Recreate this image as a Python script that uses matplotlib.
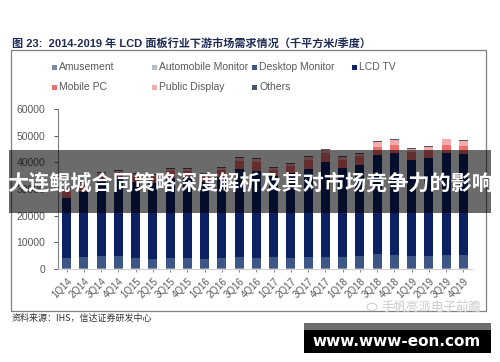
import matplotlib
matplotlib.use("Agg")
import matplotlib.pyplot as plt
from matplotlib.patches import Rectangle, Circle
import numpy as np

plt.rcParams['font.family'] = ['Liberation Sans', 'Noto Sans CJK SC', 'DejaVu Sans']

quarters = ["1Q14", "2Q14", "3Q14", "4Q14", "1Q15", "2Q15", "3Q15", "4Q15",
            "1Q16", "2Q16", "3Q16", "4Q16", "1Q17", "2Q17", "3Q17", "4Q17",
            "1Q18", "2Q18", "3Q18", "4Q18", "1Q19", "2Q19", "3Q19", "4Q19"]

amusement = [200, 200, 200, 200, 200, 200, 200, 200, 200, 200, 200, 200,
             200, 200, 200, 200, 200, 200, 200, 200, 200, 200, 200, 200]
automobile = [300, 300, 300, 300, 300, 300, 300, 300, 300, 300, 300, 300,
              300, 300, 300, 300, 300, 300, 300, 300, 300, 300, 300, 300]
desktop = [3500, 4100, 4200, 4200, 3600, 3400, 3500, 3600, 3300, 3700, 4100, 3600,
           3900, 3800, 4000, 4100, 4100, 4300, 5100, 4800, 4500, 4400, 4800, 4800]
lcd_tv = [22600, 24400, 28300, 28900, 28500, 28300, 30200, 30200, 28700, 30400, 32800, 32700,
          30600, 31700, 33100, 35400, 33200, 34200, 37200, 38300, 35900, 36600, 38300, 37700]
mobile_pc = [2800, 2500, 2400, 2500, 2400, 2400, 2700, 2600, 2500, 2700, 3200, 3400,
             2100, 2600, 3400, 3500, 3200, 3300, 2900, 2900, 3100, 3200, 3000, 3000]
public_display = [700, 700, 700, 700, 700, 700, 700, 700, 700, 700, 1000, 1000,
                  700, 700, 1100, 1100, 1100, 1000, 2000, 1900, 1100, 1100, 2000, 2100]
others = [300, 300, 300, 300, 300, 300, 300, 300, 300, 300, 300, 300,
          300, 300, 300, 300, 300, 300, 300, 300, 300, 300, 300, 300]

series = [("Amusement", amusement, "#7d8ca6"),
          ("Automobile Monitor", automobile, "#b3bdcb"),
          ("Desktop Monitor", desktop, "#3b5687"),
          ("LCD TV", lcd_tv, "#0b2162"),
          ("Mobile PC", mobile_pc, "#ef6f6f"),
          ("Public Display", public_display, "#f5abab"),
          ("Others", others, "#4b5568")]

fig = plt.figure(figsize=(5.0, 3.62), dpi=100)
W, H = 500, 362

def fx(x):
    return x / W

def fy(y):
    return 1 - y / H

# title
fig.text(fx(12), fy(43), "图 23:  2014-2019 年 LCD 面板行业下游市场需求情况（千平方米/季度）",
         fontsize=8, fontweight='bold', color="#1f2a55", va='center', ha='left',
         family=['Liberation Sans', 'Noto Sans CJK SC'])

# border box
fig.patches.append(Rectangle((fx(11), fy(311)), fx(486) - fx(11), fy(50) - fy(311),
                             transform=fig.transFigure, fill=False, edgecolor="#808080", lw=0.9))

ax = fig.add_axes([fx(58), fy(269), fx(472) - fx(58), fy(109) - fy(269)])
x = np.arange(len(quarters))
bottom = np.zeros(len(quarters))
for name, vals, col in series:
    v = np.array(vals, dtype=float)
    ax.bar(x, v, bottom=bottom, width=0.52, color=col, label=name, linewidth=0)
    bottom += v

ax.set_xlim(-0.5, len(quarters) - 0.5)
ax.set_ylim(0, 60000)
ax.set_yticks([0, 10000, 20000, 30000, 40000, 50000, 60000])
ax.set_yticklabels(["0", "10000", "20000", "30000", "40000", "50000", "60000"])
ax.set_xticks(x)
ax.set_xticklabels(quarters, rotation=45, ha='right', va='top', rotation_mode='anchor')
ax.tick_params(axis='y', labelsize=7.5, colors="#595959", length=3, width=0.7, pad=6)
ax.tick_params(axis='x', labelsize=7, colors="#595959", length=2, width=0.5, pad=3)
for s in ['top', 'right']:
    ax.spines[s].set_visible(False)
ax.spines['left'].set_color("#808080")
ax.spines['left'].set_linewidth(0.8)
ax.spines['bottom'].set_color("#d0d0d0")
ax.spines['bottom'].set_linewidth(0.8)

# legend (manual)
leg_pos = [(52, 67), (152, 67), (252, 67), (352, 67), (52, 87), (152, 87), (252, 87)]
for (name, vals, col), (lx, ly) in zip(series, leg_pos):
    fig.patches.append(Rectangle((fx(lx), fy(ly + 2.5)), fx(5), 5 / H,
                                 transform=fig.transFigure, facecolor=col, edgecolor='none'))
    fig.text(fx(lx + 7), fy(ly), name, fontsize=7.5, color="#595959", va='center', ha='left')

# source
fig.text(fx(12), fy(318), "资料来源：IHS，信达证券研发中心", fontsize=6.5, color="#333333",
         va='center', ha='left', family=['Noto Sans CJK SC', 'DejaVu Sans'])

# watermark
fig.patches.append(Circle((fx(372), fy(307)), 5 / W, transform=fig.transFigure,
                          fill=False, edgecolor="#cfcfcf", lw=0.8))
fig.text(fx(381), fy(307), "手帆亮派电子前瞻", fontsize=9, color="#cccccc",
         va='center', ha='left', family=['Noto Sans CJK SC', 'DejaVu Sans'])

# overlay band
fig.patches.append(Rectangle((fx(9), fy(213)), fx(491) - fx(9), fy(150) - fy(213),
                             transform=fig.transFigure, facecolor="black", alpha=0.58,
                             edgecolor='none', zorder=5))
fig.text(fx(250), fy(183), "大连鲲城合同策略深度解析及其对市场竞争力的影响", fontsize=15.2,
         fontweight='bold', color="white", va='center', ha='center', zorder=6,
         family=['Noto Sans CJK SC', 'DejaVu Sans'])

# black box
fig.patches.append(Rectangle((fx(304), fy(353)), fx(491) - fx(304), fy(323) - fy(353),
                             transform=fig.transFigure, facecolor="black", edgecolor='none', zorder=5))
fig.patches.append(Rectangle((fx(304), fy(330)), fx(491) - fx(304), fy(323) - fy(330),
                             transform=fig.transFigure, facecolor="#6e6e6e", edgecolor='none', zorder=5))
fig.text(fx(397), fy(341), "www.www-eon.com", fontsize=11, fontweight='bold', color="white",
         va='center', ha='center', zorder=6, family=['DejaVu Sans'])

fig.savefig("out.png", dpi=100)
